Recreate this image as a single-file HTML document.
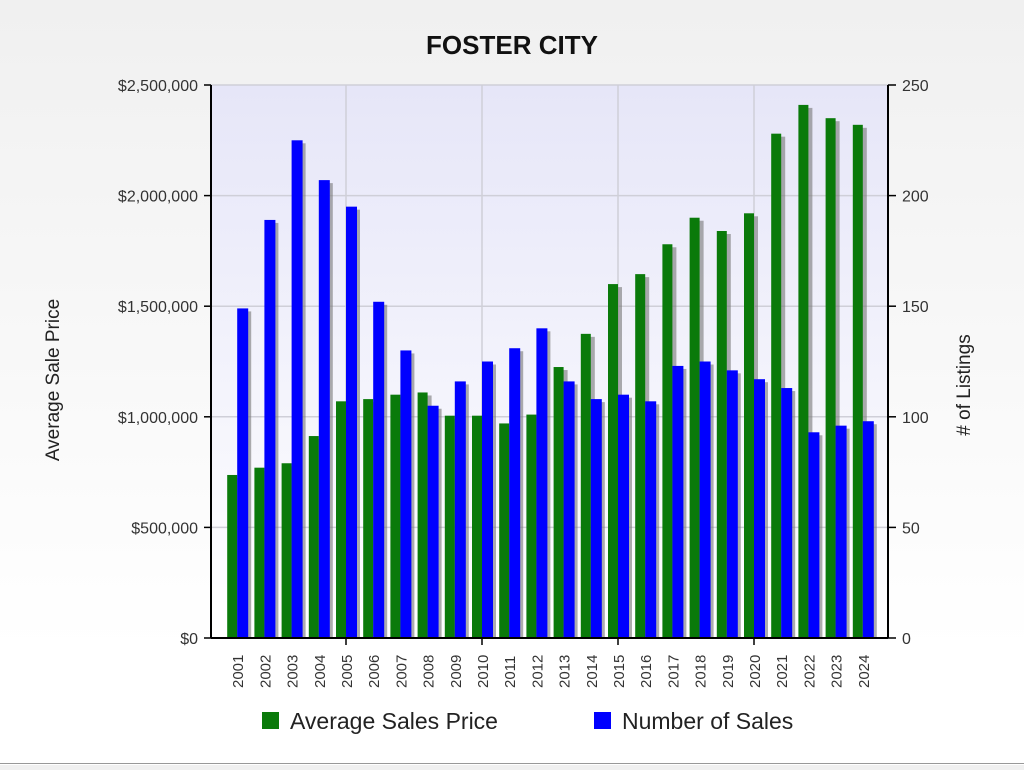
<!DOCTYPE html>
<html><head><meta charset="utf-8"><style>
body{margin:0;width:1024px;height:765px;overflow:hidden;background:linear-gradient(#f0f0f0,#ffffff 85%);font-family:"Liberation Sans",sans-serif}
</style></head><body>
<svg width="1024" height="765">
<defs><linearGradient id="pg" x1="0" y1="0" x2="0" y2="1"><stop offset="0" stop-color="#e6e6f8"/><stop offset="1" stop-color="#ffffff"/></linearGradient></defs>
<line x1="0" y1="763.5" x2="1024" y2="763.5" stroke="#999"/>
<text x="512" y="54" text-anchor="middle" font-size="26" font-weight="bold" fill="#111">FOSTER CITY</text>
<rect x="211" y="85" width="677" height="553" fill="url(#pg)"/>
<g id="grid"></g><g id="bars"></g><g id="axes"></g>
<text transform="translate(59,380) rotate(-90)" text-anchor="middle" font-size="19" fill="#222">Average Sale Price</text>
<text transform="translate(970,385) rotate(-90)" text-anchor="middle" font-size="19" fill="#222">#   of Listings</text>
<g>
<rect x="262" y="712" width="17" height="17" fill="#0a7a0a"/>
<text x="290" y="729" font-size="23" fill="#222">Average Sales Price</text>
<rect x="594" y="712" width="17" height="17" fill="#0000ff"/>
<text x="622" y="729" font-size="23" fill="#222">Number of Sales</text>
</g>
</svg>
<script>
const years=["2001","2002","2003","2004","2005","2006","2007","2008","2009","2010","2011","2012","2013","2014","2015","2016","2017","2018","2019","2020","2021","2022","2023","2024"];
const prices=[737000,770000,790000,913000,1070000,1080000,1100000,1110000,1005000,1005000,970000,1010000,1225000,1375000,1600000,1645000,1780000,1900000,1840000,1920000,2280000,2410000,2350000,2320000];
const sales=[149,189,225,207,195,152,130,105,116,125,131,140,116,108,110,107,123,125,121,117,113,93,96,98];
const leftTicks=[0,500000,1000000,1500000,2000000,2500000];
const leftLabels=["$0","$500,000","$1,000,000","$1,500,000","$2,000,000","$2,500,000"];
const rightTicks=[0,50,100,150,200,250];
const NS="http://www.w3.org/2000/svg";
const X0=211,X1=888,Y0=638,Y1=85,pitch=27.2,first=237.2;
const yL=v=>Y0-v/2500000*(Y0-Y1);
const yR=v=>Y0-v/250*(Y0-Y1);
const xC=i=>first+i*pitch;
function mk(t,a,p){const e=document.createElementNS(NS,t);for(const k in a)e.setAttribute(k,a[k]);p.appendChild(e);return e;}
const grid=document.getElementById('grid'),bars=document.getElementById('bars'),axes=document.getElementById('axes');
leftTicks.forEach((v,i)=>{
 const l=mk('line',{x1:X0,x2:X1,y1:yL(v),y2:yL(v),stroke:'#cfcfd8','stroke-width':1.5},grid);
 
 
 const t=mk('line',{x1:X0-7,x2:X0,y1:yL(v),y2:yL(v),stroke:'#000','stroke-width':1.5},axes);
 
 
 const tx=mk('text',{x:X0-13,y:yL(v)+6,'text-anchor':'end','font-size':16,fill:'#333'},axes);
 tx.textContent=leftLabels[i];
 
 
});
rightTicks.forEach(v=>{
 const t=mk('line',{x1:X1,x2:X1+8,y1:yR(v),y2:yR(v),stroke:'#000','stroke-width':1.5},axes);
 
 
 const tx=mk('text',{x:X1+14,y:yR(v)+6,'font-size':16,fill:'#333'},axes);
 tx.textContent=v;
 
 
});
years.forEach((y,i)=>{
 if(i%5==4){const g=mk('line',{x1:xC(i),x2:xC(i),y1:Y1,y2:Y0,stroke:'#cfcfd8','stroke-width':1.5},grid);
  
  
  const t=mk('line',{x1:xC(i),x2:xC(i),y1:Y0,y2:Y0+7,stroke:'#000','stroke-width':1.5},axes);
  
  }
 const c=xC(i);
 const s1=mk('rect',{x:c-7,y:yL(prices[i])+3,width:11,height:Y0-yL(prices[i])-3,fill:'#777',opacity:0.6},bars);
 
 
 const g=mk('rect',{x:c-10,y:yL(prices[i]),width:10,height:Y0-yL(prices[i]),fill:'#0a7a0a'},bars);
 
 
 const s2=mk('rect',{x:c+3,y:yR(sales[i])+3,width:11,height:Y0-yR(sales[i])-3,fill:'#777',opacity:0.6},bars);
 
 
 const b=mk('rect',{x:c,y:yR(sales[i]),width:11,height:Y0-yR(sales[i]),fill:'#0000ff'},bars);
 
 
 const tx=mk('text',{transform:`translate(${c+6},${Y0+50}) rotate(-90)`,'font-size':15,fill:'#333'},axes);
 tx.textContent=y;
 
 
});
[[X0,Y1,X0,Y0],[X1,Y1,X1,Y0],[X0,Y0,X1,Y0]].forEach(a=>{
 const l=mk('line',{x1:a[0],y1:a[1],x2:a[2],y2:a[3],stroke:'#000','stroke-width':2},axes);
 
 
});
</script>
</body></html>
